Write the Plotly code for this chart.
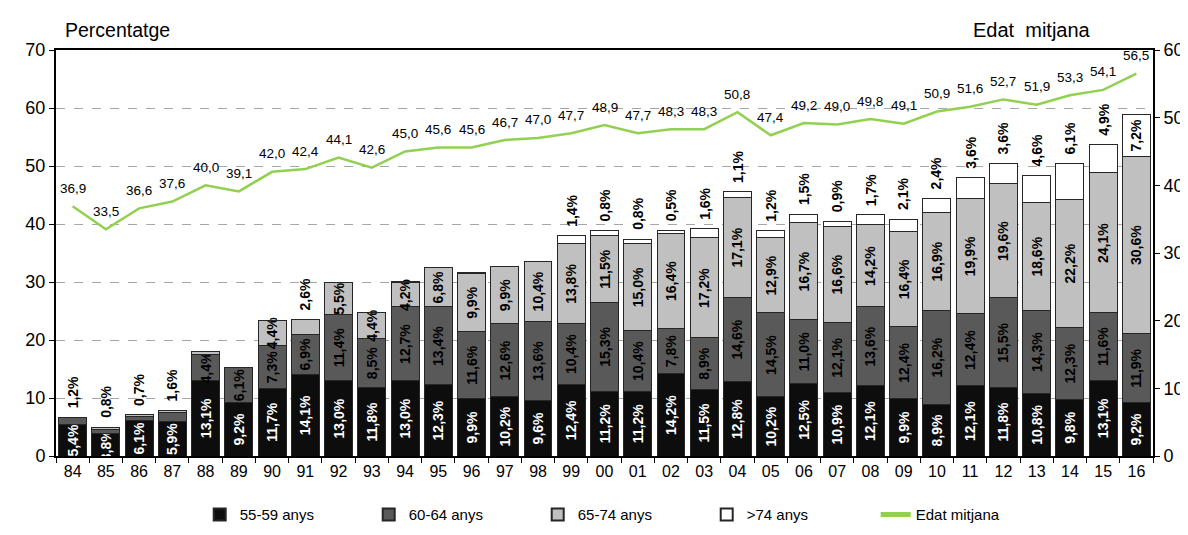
import plotly.graph_objects as go

years = ["84", "85", "86", "87", "88", "89", "90", "91", "92", "93", "94", "95", "96",
         "97", "98", "99", "00", "01", "02", "03", "04", "05", "06", "07", "08", "09",
         "10", "11", "12", "13", "14", "15", "16"]

age_55_59 = [5.4, 3.8, 6.1, 5.9, 13.1, 9.2, 11.7, 14.1, 13.0, 11.8, 13.0, 12.3, 9.9,
             10.2, 9.6, 12.4, 11.2, 11.2, 14.2, 11.5, 12.8, 10.2, 12.5, 10.9, 12.1, 9.9,
             8.9, 12.1, 11.8, 10.8, 9.8, 13.1, 9.2]
age_60_64 = [1.2, 0.8, 0.7, 1.6, 4.4, 6.1, 7.3, 6.9, 11.4, 8.5, 12.7, 13.4, 11.6,
             12.6, 13.6, 10.4, 15.3, 10.4, 7.8, 8.9, 14.6, 14.5, 11.0, 12.1, 13.6, 12.4,
             16.2, 12.4, 15.5, 14.3, 12.3, 11.6, 11.9]
age_65_74 = [0.0, 0.4, 0.3, 0.4, 0.6, 0.0, 4.4, 2.6, 5.5, 4.4, 4.2, 6.8, 9.9,
             9.9, 10.4, 13.8, 11.5, 15.0, 16.4, 17.2, 17.1, 12.9, 16.7, 16.6, 14.2, 16.4,
             16.9, 19.9, 19.6, 18.6, 22.2, 24.1, 30.6]
age_75_plus = [0.0, 0.0, 0.0, 0.0, 0.0, 0.0, 0.0, 0.0, 0.0, 0.0, 0.2, 0.0, 0.2,
               0.0, 0.0, 1.4, 0.8, 0.8, 0.5, 1.6, 1.1, 1.2, 1.5, 0.9, 1.7, 2.1,
               2.4, 3.6, 3.6, 4.6, 6.1, 4.9, 7.2]
edat_mitjana = [36.9, 33.5, 36.6, 37.6, 40.0, 39.1, 42.0, 42.4, 44.1, 42.6, 45.0, 45.6, 45.6,
                46.7, 47.0, 47.7, 48.9, 47.7, 48.3, 48.3, 50.8, 47.4, 49.2, 49.0, 49.8, 49.1,
                50.9, 51.6, 52.7, 51.9, 53.3, 54.1, 56.5]

series_names = ["55-59 anys", "60-64 anys", "65-74 anys", ">74 anys"]
series_values = [age_55_59, age_60_64, age_65_74, age_75_plus]
series_colors = ["#0d0d0d", "#595959", "#c0c0c0", "#ffffff"]
series_textcolors = ["#ffffff", "#000000", "#000000", "#000000"]
unlabelled = {("65-74 anys", "88")}

FONT = "Liberation Sans, Arial, sans-serif"


def fmt(v, suffix=""):
    return f"{v:.1f}".replace(".", ",") + suffix


fig = go.Figure()
annotations = []
totals = [sum(vals) for vals in zip(*series_values)]

for idx, (name, vals, col, tcol) in enumerate(zip(series_names, series_values,
                                                   series_colors, series_textcolors)):
    is_top = idx == len(series_names) - 1
    min_inside = 7.0 if is_top else 3.5
    inside = []
    for i, (yr, v, tot) in enumerate(zip(years, vals, totals)):
        if v >= min_inside:
            inside.append(fmt(v, "%"))
        else:
            inside.append("")
            if v >= 0.5 and (name, yr) not in unlabelled:
                annotations.append(dict(
                    x=i, y=tot, xref="x", yref="y", text="<b>" + fmt(v, "%") + "</b>",
                    showarrow=False, textangle=-90, yanchor="bottom", xanchor="center",
                    yshift=7, font=dict(family=FONT, size=14, color="#000000")))
    fig.add_trace(go.Bar(
        x=years, y=vals, name=name,
        marker=dict(color=col, line=dict(color="#262626", width=1)),
        text=inside, textposition="inside", textangle=-90,
        insidetextanchor="middle", constraintext="none",
        insidetextfont=dict(family=FONT, size=14, color=tcol, weight="bold"),
        hoverinfo="x+y",
    ))

fig.add_trace(go.Scatter(
    x=years, y=edat_mitjana, name="Edat mitjana", yaxis="y2", mode="lines",
    line=dict(color="#92D050", width=2.5),
))
for i, v in enumerate(edat_mitjana):
    annotations.append(dict(
        x=i, y=v, xref="x", yref="y2", text=fmt(v), showarrow=False,
        yshift=18, font=dict(family=FONT, size=13.5, color="#000000")))

annotations.append(dict(x=0.006, y=1.0, xref="paper", yref="paper", text="Percentatge",
                        showarrow=False, xanchor="left", yanchor="bottom", yshift=7,
                        font=dict(family=FONT, size=19.5, color="#000000")))
annotations.append(dict(x=0.834, y=1.0, xref="paper", yref="paper", text="Edat  mitjana",
                        showarrow=False, xanchor="left", yanchor="bottom", yshift=7,
                        font=dict(family=FONT, size=20, color="#000000")))

fig.update_layout(
    width=1188, height=535,
    margin=dict(l=48, r=41, t=42, b=70),
    paper_bgcolor="white", plot_bgcolor="white",
    barmode="stack", bargap=0.16,
    separators=",.",
    font=dict(family=FONT, color="#000000"),
    uniformtext=dict(minsize=14, mode="show"),
    showlegend=True,
    legend=dict(orientation="h", x=0.131, xanchor="left", y=-0.145, yanchor="middle",
                font=dict(family=FONT, size=15), entrywidth=124,
                traceorder="normal", itemsizing="constant"),
    annotations=annotations,
    xaxis=dict(type="category", range=[-0.5, len(years) - 0.5], showline=True,
               linecolor="#000000", linewidth=2, tickangle=0,
               mirror=True, ticks="outside", tickson="boundaries", ticklen=5,
               tickcolor="#000000", tickfont=dict(family=FONT, size=16), showgrid=False),
    yaxis=dict(range=[0, 70], dtick=10, showline=True, linecolor="#000000", linewidth=2,
               ticks="outside", ticklen=5, tickcolor="#000000",
               tickfont=dict(family=FONT, size=18), showgrid=True, gridcolor="#a6a6a6",
               griddash="dash", gridwidth=1, zeroline=False),
    yaxis2=dict(range=[0, 60], dtick=10, overlaying="y", side="right", showline=True,
                linecolor="#000000", linewidth=2, ticks="outside", ticklen=5,
                tickcolor="#000000", tickfont=dict(family=FONT, size=18),
                showgrid=False, zeroline=False),
)

fig.write_html("out.html")
